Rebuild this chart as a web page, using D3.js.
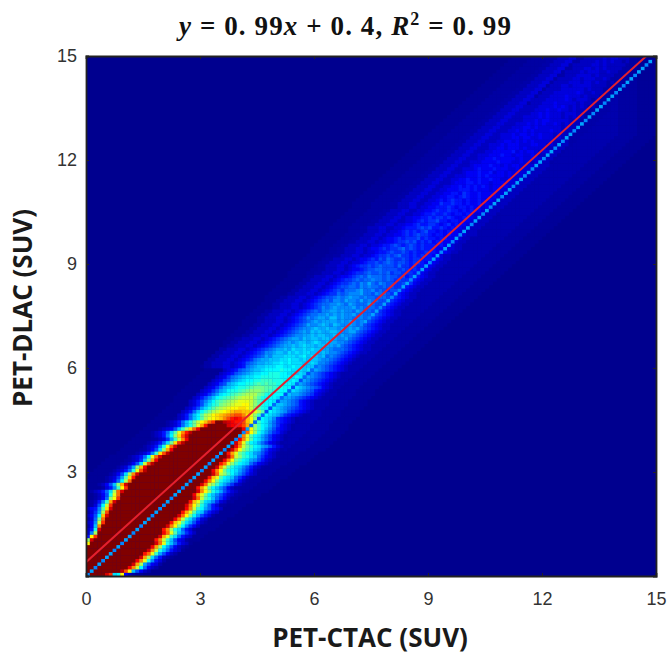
<!DOCTYPE html>
<html>
<head>
<meta charset="utf-8">
<script src="https://cdn.jsdelivr.net/npm/d3@7"></script>
<style>
    html, body { margin: 0; padding: 0; background: #fff; }
    svg { display: block; }
    .tick text { font-family: "Liberation Sans", Arial, sans-serif; font-size: 18px; fill: #333; }
    .axis-label { font-family: "Open Sans", sans-serif; font-weight: 700; font-size: 26px; fill: #1a1a1a; }
    .title { font-family: "Liberation Serif", serif; font-weight: 700; font-size: 27px; letter-spacing: 1.1px; fill: #111; }
</style>
</head>
<body>
<div id="chart"></div>
<script>
    const xTicks = [0, 3, 6, 9, 12, 15];
    const yTicks = [3, 6, 9, 12, 15];
    const binCount = 150;
    const fitSlope = 0.99;
    const fitIntercept = 0.4;

    // density, row 0 is the bottom row.
    // each char is a level 0-35 (base 36), z = saturated core
    const coreFrom = [0,0,0,0,0,0,0,0,0,1, 2,3,3,4,4,5,5,6,6,7, 7,8,9,9,10,11,11,12,13,14,
        16,16,18,19,20,22,23,24,26,27, 27,28,30,32,34];
    const coreTo = [5,9,11,12,13,14,15,16,17,18, 18,19,20,20,21,22,23,24,25,26, 26,27,28,28,29,29,30,31,32,33,
        33,34,35,36,37,37,38,39,39,40, 40,41,41,37,36];
    const anchor = [38,38,39,39,40,41,42,43,44,45, 46,47,48,49,50,51,52,53,54,55, 56,57,58,59,60,61,62,63,64,65,
        66,67,68,69,70,71,72,73,74,75, 76,77,78,79,80,81,82,83,84,85, 86,87,88,89,90,91,92,93,94,95,
        96,97,98,99,100,101,102,103,104,105, 106,107,108,109,110,111,112,113,114,115, 116,117,118,119,120,121,122,123,124,125,
        126,127,128,129,130,131,132,133,134,135, 136,137,138,139,140];

    const rise = ["","","","","","","","","","m","iw","5mt","29j","25ew","14bq","249kt","138hr","247dow","136ajs","2459gnw",
        "137dkt","1259fpw","1248imt","1247elr","12358cjrw","1359fmt","1247bipw","1248djr","1236agnu","1247cjqw",
        "12358elsx","1236aiov","1247cksx","1236bhpv","12358dlrw","12359fnsx","1247cipv","12359elrw","12358chntx","1236afkqv",
        "12359dinsw","12358cglqux","12347bfjnrv","12358behlpu","12358behkmort",
        "2358bdgjlmnoqs","2358bdgjkmnopq","2358bdfhjklmno","2357acegijklm","2357acefhijkl",
        "23579bdfghijkl","23579bdefghijk","23468acdefghij","23468abdeefghi","23468abcdeefgh",
        "23467abcddeefg","234679abcddeef","234689abccddee","2345789abccdde","2345789abbcddd",
        "234589abbcccd","2345789aabbccd","2345689aabbbcc","2345678a9bbbcc","23456799abbacb",
        "23456789aabacb","23456789aabab","23456789a9abb","23456789aa9ba","234567899aab",
        "23456789a9ba","234567899aba","2345678a99ab","23456789a9aa","234567989aa9b",
        "2345678899a9a","2345678799aa9","234567989a99","2345678899a98","23456787998a9",
        "23456778989a9","234566878999","23456768889a","234567788798","23456678798a",
        "234566787889","234456787988","23456678778","23445677887","234566767877",
        "233456676787","234456576876","23345667678","23345567667","234456566786",
        "233455676567","23344566767","23445656667","23344565676","23345656567",
        "223345556767","23344565566","22334565667","23344556566","22334556556",
        "22334456556","2334455565","22334465565","22334545655","22334455456",
        "22334455465","22334445554","22334454545","22234445545","22334454454",
        "22333444545","22234445445","22333454445","22234444544","22333444454",
        "22233445444","22333444544","22233444445","22233443444","22333434443",
        "22233443434","22233344344","22333434434","22233434343","22233344343",
        "22233343434","22223334344","22233334343","22223343433","22223334334",
        "22223333434","12223334333","22223333343","12223333433","12223333334",
        "12222333333","12223323333","12222333233","12222332333","11222333323",
        "12222323332","11222332323","12222233232","11222232323","11222223233"];

    const fall = ["wtcdm421","xsmb7421","vqkd8421","wpja7431","vqle9531","wpjc8521","urlfa7421","wqkeb8532","vpjda7421","wrleb8532",
        "uqkfb7431","wplfc8532","vrlgb9642","uqjec8531","wqmhd9642","uolgca7421","vqkfc9632","wrmhda7531","uplgcb7532","vqkfda8542",
        "wrmieb8531","uolgcb9632","wrkgeb8642","vplhdb975321","wqmieca75321","uplgdb97421","wrkifca86321","vqmhecb97421","uolgdcb86421","wrkifdb97532",
        "vqmhedca86421","wpkgecb975321","urlifdcb864321","vqmhfdca975321","wrkifecb864321","uplhfdca975321","wrmigecb864321","vqkhfdca975321","wrlgdca864321","vqlgdca864321",
        "wqlgdca864321","wrmieca865321","vqmifdb9754321","wvvuspmifdca864321","xwvuusolifdca8654321",
        "uvusomifdcb9654321","rssqnlifedcba865432","ppoonljgedcba9765432","mnnmkigeddcba98765432","lmmkigeddcbba9875432",
        "llkigeddcbaa9875432","kkigedddcbaa98765432","jjhgeedddcbaa9876432","iihgfeedddcba9875432","hhggfeedddcba9876432",
        "fgffeeddcba98765432","ffeeedcdcba98765432","eeedddcdcba98765432","eeddccbcba98765432","deddcccbcba98765432",
        "dccdccbbba98765432","cdcccbbcba98765432","dccbcbbbaa98765432","cbcdbcbaba98765432","cbccbbabaa987654322",
        "bcbcbbaa9a887654322","cbbabbaa9987654322","abcbabaa9987654322","bbabbaa99887654322","abbaab9a9887654322",
        "baabba99a887654322","abaa9a9a9887654322","a9ba99a9887654322","aa9a9a98987654322","b9a99899887654322",
        "9a99a898877654322","a998a98878654322","99a8988877654322","a9888a8778654322","98a8988777654322",
        "9898878877654322","a88798876654322","889787677654322","988787766654322","879877667564322",
        "887876766554322","878776756654322","78677666554322","77767656554322","76866565564322",
        "67765665454322","67656655544322","6656565544322","65655655454322","76565554453322",
        "6565554543322","5656455443322","5655455443322","65455454433222","5545454433222",
        "5565 4544 33222","5456 4544 33222","5545 5444 33222","5654 4544 33222","5455 4543 33222",
        "5545 4544 33222","4554 5443 43222","5454 4534 33222","4544 5434 33222","5445 4434 33222",
        "4454 4443 33222","5444 3443 33222","4543 4434 33222","4434 4433 33222","4544 3343 32222",
        "4444 3433 32222","3443 4343 32222","4443 3433 32222","3434 4333 32222","4433 4332 32221",
        "4434 3343 32221","3443 3432 22221","3434 4323 32221","3433 3332 22221","3344 3323 22221",
        "3433 3332 22211","3343 3323 22111","3433 3232 22111","3334 3322 21111","3333 3232 21111",
        "3343 2322 21111","3333 3222 11111","3323 2322 11111","3233 3221 11111","3323 2221 11111",
        "3232 3212 1111","3323 2221 111","2333 2121 111","3232 2211 111","3223 2211 11",
        "2322 2111 1","3222 2111","2322 1211","2232 1111","2222 1111","2322 111","2222 11","2222 1","2212","222"];

    // faint halo around the band, between these two columns
    const haloFrom = [0,0,0,0,0,0,0,0,0,0, 0,0,0,0,0,0,0,0,1,1, 0,0,0,0,0,0,0,0,1,1,
        2,3,4,5,6,8,9,10,11,12, 13,14,15,16,17,18,19,20,21,22, 23,23,24,25,26,27,28,29,30,31,
        30,31,32,33,34,35,36,36,37,38, 39,40,41,41,42,43,44,45,46,47, 47,48,49,50,51,52,53,53,54,55,
        56,57,58,59,59,60,61,62,63,64, 64,65,66,67,68,69,70,70,71,72, 73,74,75,76,77,78,79,80,81,82,
        83,84,85,86,87,88,89,90,91,92, 93,94,95,96,97,98,99,100,101,102, 103,104,105,106,107,108,109,110,111,112];
    const haloTo = [14,16,18,19,20,22,23,25,26,27, 29,30,31,33,34,35,36,38,39,40, 41,43,44,45,47,48,49,50,52,53,
        54,55,57,58,59,60,62,63,64,65, 66,67,68,68,69,70,71,71,72,73, 73,74,75,75,76,77,78,79,80,81,
        82,83,84,85,86,87,88,89,90,91, 92,93,94,95,96,97,98,99,100,101, 102,103,104,105,106,107,108,109,110,111,
        112,113,114,115,116,117,118,119,120,121, 122,123,124,125,126,127,128,129,130,131, 132,133,134,135,136,137,138,139,140,141,
        142,143,144,145,146,147,148,149,149,149, 149,149,149,149,149,149,149,149,149,149, 149,149,149,149,149,149,149,149,149,149];
    const haloLevels = [0.4, 0.8, 1.2];
    const haloStep = 5;
    const upperFringe = "1122233";

    // the identity diagonal, one level per bin
    const diagonal = "9a9a9aa9a9aa9a9aa9a99a9aa9a9aa9a9a9a9aa9a9a88787787878787878899898a9a9aa9a9aa9aa9a9aa9a9aa9aa9aa9a9aa9aa9a9aa9aa9aa9a9aa9aa9a9aa9aa9a9aa9aa9a9aa9aa9a";

    const margin = { top: 56, right: 14, bottom: 79, left: 86 };
    const width = 670 - margin.left - margin.right;
    const height = 655 - margin.top - margin.bottom;

    const level = ch => parseInt(ch, 36);

    // build the grid from the rows above
    const grid = d3.range(binCount).map(() => new Array(binCount).fill(0));
    const put = (r, c, v) => { if (c >= 0 && c < binCount) grid[r][c] = v; };
    rise.forEach((_, r) => {
        for (let c = haloFrom[r]; c <= haloTo[r]; c++) {
            const edge = Math.floor(Math.min(c - haloFrom[r], haloTo[r] - c) / haloStep);
            put(r, c, haloLevels[Math.min(edge, haloLevels.length - 1)]);
        }
        const from = r < coreFrom.length ? coreFrom[r] : anchor[r - coreFrom.length];
        const to = r < coreTo.length ? coreTo[r] : from;
        const up = (r >= 60 ? upperFringe : "") + rise[r];
        const down = fall[r].replace(/ /g, "");
        up.split("").forEach((ch, i) => put(r, from - up.length + i, level(ch)));
        for (let c = from; c < to; c++) put(r, c, 35);
        down.split("").forEach((ch, i) => put(r, to + i, level(ch)));
    });
    diagonal.split("").forEach((ch, i) => put(i, i, level(ch)));

    const cells = [];
    grid.forEach((row, r) => row.forEach((v, c) => { if (v > 0) cells.push({ r, c, v }); }));

    const x = d3.scaleLinear().domain([0, 15]).range([0, width]);
    const y = d3.scaleLinear().domain([0, 15]).range([height, 0]);
    const xBin = d3.scaleBand().domain(d3.range(binCount)).range([0, width]);
    const yBin = d3.scaleBand().domain(d3.range(binCount)).range([height, 0]);

    // jet colormap
    const jet = d3.scaleLinear()
        .domain([0, 0.125, 0.375, 0.625, 0.875, 1])
        .range(["#00008f", "#0000ff", "#00ffff", "#ffff00", "#ff0000", "#800000"]);
    const color = v => jet(v / 35);

    const root = d3.select("#chart")
        .append("svg")
        .attr("width", 670)
        .attr("height", 655);

    const svg = root.append("g")
        .attr("transform", `translate(${margin.left},${margin.top})`);

    root.append("defs").append("clipPath").attr("id", "plot")
        .append("rect").attr("width", width).attr("height", height);

    const plot = svg.append("g").attr("clip-path", "url(#plot)");
    plot.append("rect").attr("width", width).attr("height", height).attr("fill", color(0));

    plot.append("g")
        .style("filter", "blur(0.6px)")
        .selectAll("rect")
        .data(cells)
        .enter().append("rect")
        .attr("x", d => xBin(d.c))
        .attr("y", d => yBin(d.r))
        .attr("width", xBin.bandwidth() + 0.3)
        .attr("height", yBin.bandwidth() + 0.3)
        .attr("fill", d => color(d.v));

    const fitLine = d3.line().x(d => x(d)).y(d => y(fitSlope * d + fitIntercept));
    plot.append("path")
        .attr("d", fitLine([0, 15]))
        .attr("fill", "none")
        .attr("stroke", "#e4202e")
        .attr("stroke-width", 2);

    // axes, ticks point inwards on all four sides
    svg.append("g").attr("transform", `translate(0,${height})`)
        .call(d3.axisBottom(x).tickValues(xTicks).tickSize(-3).tickPadding(16));
    svg.append("g")
        .call(d3.axisLeft(y).tickValues(yTicks).tickSize(-3).tickPadding(9));
    svg.append("g").call(d3.axisTop(x).tickValues(xTicks).tickSize(-3).tickFormat(""));
    svg.append("g").attr("transform", `translate(${width},0)`)
        .call(d3.axisRight(y).tickValues(yTicks).tickSize(-3).tickFormat(""));
    svg.selectAll(".domain").attr("stroke", "#222").attr("stroke-width", 1.8);
    svg.selectAll(".tick line").attr("stroke", "#222");

    root.append("text")
        .attr("class", "axis-label")
        .attr("x", 370).attr("y", 647)
        .attr("text-anchor", "middle")
        .text("PET-CTAC (SUV)");

    root.append("text")
        .attr("class", "axis-label")
        .attr("transform", "translate(32,308) rotate(-90)")
        .attr("text-anchor", "middle")
        .text("PET-DLAC (SUV)");

    const title = root.append("text")
        .attr("class", "title")
        .attr("x", 345.5).attr("y", 35)
        .attr("text-anchor", "middle");
    const part = (t, italic) => title.append("tspan").text(t).style("font-style", italic ? "italic" : "normal");
    part("y", true); part(" = 0. 99"); part("x", true); part(" + 0. 4, "); part("R", true);
    title.append("tspan").text("2").attr("dy", -10).style("font-size", "18px");
    title.append("tspan").text(" = 0. 99").attr("dy", 10);
</script>
</body>
</html>
